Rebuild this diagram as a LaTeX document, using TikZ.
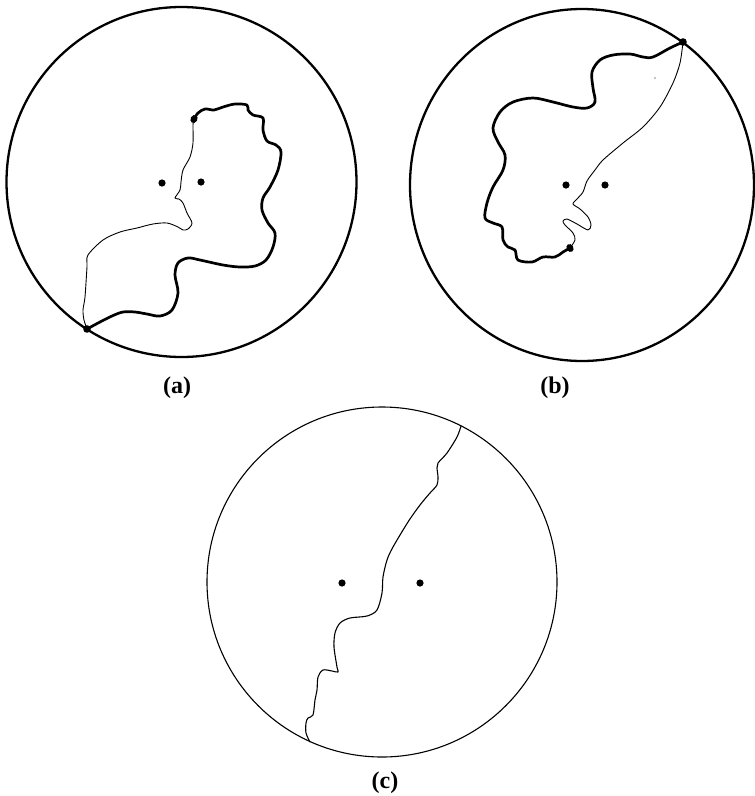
\documentclass[tikz,border=0pt]{standalone}
\usepackage{fontspec}
\setmainfont{Liberation Serif}
\begin{document}
\begin{tikzpicture}[x=1pt,y=-1pt,
  outline/.style={line width=2.3pt},
  thinoutline/.style={line width=1.1pt},
  boldpath/.style={line width=2.7pt, line join=round, line cap=round},
  finepath/.style={line width=0.9pt, line join=round, line cap=round},
  capt/.style={font=\fontsize{24}{28}\selectfont\bfseries}]
\useasboundingbox (0,0) rectangle (755,796);

% ---------- (a) ----------
\draw[outline] (181.5,182) circle[radius=175pt];
\fill (162,183) circle[radius=3.6pt];
\fill (201,182) circle[radius=3.6pt];
\draw[boldpath] plot[smooth, tension=0.55] coordinates {
 (87,329) (100,322) (112,316) (123,312) (135,312) (147,314) (160,316) (172,310)
 (178,293) (175,275) (178,263) (188,258) (200,260) (223,265) (240,267) (255,266)
 (266,260) (273,247) (275,233) (268,223) (262,210) (263,198) (270,187) (278,170)
 (281,152) (276,145) (267,141) (263,130) (263,118) (253,115) (248,110) (247,105)
 (235,104) (223,107) (214,110) (205,109) (198,113) (194,119)};
\draw[finepath] plot[smooth, tension=0.5] coordinates {
 (194,119) (193,125) (193,143) (190,157) (183,170) (181,182) (180,190) (175,198)
 (179,199) (183,203) (187,213) (192,223) (188,229) (183,230) (178,227) (167,223)
 (153,224) (137,228) (120,232) (103,240) (88,255) (87,267) (85,297) (83,310)
 (84,320) (87,329)};
\fill (87,329) circle[radius=3.8pt];
\fill[rotate around={60:(194,119)}] (194,119) ellipse[x radius=4.2pt, y radius=3.4pt];
\node[capt] (capa) at (177,388) {(a)};

% ---------- (b) ----------
\draw[outline] (582,185) ellipse[x radius=172pt, y radius=176pt];
\fill (566,185) circle[radius=3.6pt];
\fill (605,185) circle[radius=3.6pt];
\draw[boldpath] plot[smooth, tension=0.55] coordinates {
 (683,42) (670,48) (653,57) (643,57) (630,54) (613,55) (600,60) (592,72)
 (593,88) (595,102) (587,108) (573,107) (553,102) (533,98) (513,102) (500,112)
 (493,128) (498,142) (505,155) (503,170) (493,187) (487,203) (485,218) (493,223)
 (502,227) (503,240) (508,247) (515,250) (518,260) (532,262) (543,257) (555,257)
 (563,252) (570,248)};
\draw[finepath] plot[smooth, tension=0.5] coordinates {
 (570,248) (575,240) (573,233) (565,225) (563,221) (567,219) (577,224) (588,230)
 (591,225) (588,217) (580,209) (573,204) (577,199) (583,192) (587,181) (595,170)
 (603,160) (623,143) (643,127) (660,107) (673,83) (680,63) (683,42)};
\fill (683,42) circle[radius=3.8pt];
\fill[rotate around={-60:(570,248)}] (570,248) ellipse[x radius=4.2pt, y radius=3.4pt];
\fill (655,78) circle[radius=0.7pt];
\node[capt] (capb) at (555,388) {(b)};

% ---------- (c) ----------
\draw[thinoutline] (382,582) circle[radius=175pt];
\fill (342,583) circle[radius=3.6pt];
\fill (420,583) circle[radius=3.6pt];
\draw[finepath, line width=1.1pt] plot[smooth, tension=0.5] coordinates {
 (461,426) (457,437) (447,453) (438,463) (437,468) (438,477) (437,485) (430,493)
 (420,505) (408,522) (393,547) (387,560) (383,577) (382,593) (377,610) (367,616)
 (350,618) (340,623) (335,633) (334,647) (337,667) (338,672) (332,671) (323,670)
 (318,677) (317,690) (315,700) (313,715) (308,718) (306,723) (306,733) (310,742)};
\node[capt] (capc) at (385,783) {(c)};
\end{tikzpicture}
\end{document}
